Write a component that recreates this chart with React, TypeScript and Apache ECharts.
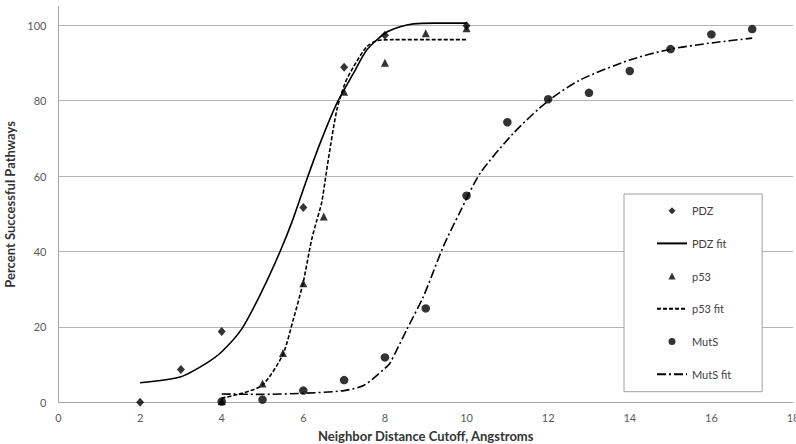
import React, { useEffect, useRef } from "react";
import * as echarts from "echarts";

const pdzX = [2, 3, 4, 6, 7, 8, 10];
const pdzY = [0, 8.7, 18.8, 51.7, 88.9, 97.4, 99.9];

const p53X = [4, 5, 5.5, 6, 6.5, 7, 8, 9, 10];
const p53Y = [0.3, 5.0, 13.1, 31.6, 49.3, 82.4, 90.1, 97.9, 99.2];

const mutsX = [4, 5, 6, 7, 8, 9, 10, 11, 12, 13, 14, 15, 16, 17];
const mutsY = [0.2, 0.7, 3.1, 5.9, 11.9, 24.9, 54.8, 74.3, 80.4, 82.1, 87.9, 93.7, 97.6, 99.0];

const pdzFitX = [2, 3, 3.6, 4, 4.5, 5, 5.43, 5.74, 6.08, 6.41, 6.82, 7.23, 7.55, 8.0, 8.37, 8.7, 9.2, 10];
const pdzFitY = [5.2, 6.8, 10.2, 13.4, 19.6, 29.8, 40.0, 48.4, 59.0, 68.7, 79.3, 87.3, 93.4, 97.9, 99.6, 100.4, 100.6, 100.6];

const p53FitX = [4, 4.5, 5, 5.49, 5.75, 6.0, 6.2, 6.33, 6.45, 6.61, 6.82, 7.02, 7.23, 7.55, 7.8, 8.2, 9, 10];
const p53FitY = [1.1, 2.4, 4.6, 12.5, 21.8, 32.0, 43.0, 48.3, 53.0, 64.3, 77.5, 84.6, 89.0, 94.3, 95.9, 96.2, 96.2, 96.2];

const mutsFitX = [4, 5, 6, 7, 7.5, 8, 8.12, 8.53, 8.94, 9.43, 9.84, 10.33, 11.15, 11.97, 12.78, 14.0, 15.0, 16.05, 17.0];
const mutsFitY = [2.2, 2.1, 2.4, 3.1, 4.6, 9.0, 10.3, 19.2, 28.0, 41.3, 50.5, 60.7, 71.4, 79.7, 85.5, 90.8, 93.7, 95.4, 96.6];

const xTicks = [0, 18, 2];
const yTicks = [0, 105, 20];

const zip = (xs: number[], ys: number[]) => xs.map((x, i) => [x, ys[i]]);

const FONT = "Lato, 'Open Sans', sans-serif";

const DIAMOND_ICON = "path://M0,-1L1,0L0,1L-1,0Z";
const TRIANGLE_ICON = "path://M0,-1L1,1L-1,1Z";
const CIRCLE_ICON = "path://M-1,0A1,1,0,1,0,1,0A1,1,0,1,0,-1,0Z";

export default function App() {
  const ref = useRef<HTMLDivElement>(null);
  useEffect(() => {
    if (!ref.current) return;
    const chart = echarts.init(ref.current, undefined, { renderer: "svg" });
    const black = "#000";
    const hiddenSym = { opacity: 0 };
    chart.setOption({
      animation: false,
      backgroundColor: "#fff",
      textStyle: { fontFamily: FONT },
      grid: { left: 58.5, right: 3, top: 6.5, bottom: 41.7, outerBoundsMode: "none", containLabel: false },
      xAxis: {
        type: "value",
        min: xTicks[0],
        max: xTicks[1],
        interval: xTicks[2],
        name: "Neighbor Distance Cutoff, Angstroms",
        nameLocation: "middle",
        nameGap: 27,
        nameTextStyle: { fontFamily: FONT, fontSize: 13, fontWeight: "bold", color: "#333" },
        axisLine: { show: true, lineStyle: { color: "#a6a6a6", width: 1 } },
        axisTick: { show: false },
        axisLabel: { fontFamily: FONT, fontSize: 11, color: "#595959", margin: 10, showMaxLabel: true, hideOverlap: false },
        splitLine: { show: false },
      },
      yAxis: {
        type: "value",
        min: yTicks[0],
        max: yTicks[1],
        interval: yTicks[2],
        name: "Percent Successful Pathways",
        nameLocation: "middle",
        nameGap: 34,
        nameTextStyle: { fontFamily: FONT, fontSize: 13, fontWeight: "bold", color: "#333" },
        axisLine: { show: true, lineStyle: { color: "#a6a6a6", width: 1 } },
        axisTick: { show: false },
        axisLabel: {
          fontFamily: FONT,
          fontSize: 11,
          color: "#595959",
          margin: 12,
          formatter: (v: number) => (v % 20 === 0 ? String(v) : ""),
        },
        splitLine: { show: true, showMaxLine: false, lineStyle: { color: "#b4b4b4", width: 1 } },
      },
      legend: {
        orient: "vertical",
        left: 624,
        top: 194,
        padding: [10.2, 31, 11, 32],
        itemWidth: 30,
        itemHeight: 7,
        itemGap: 19.7,
        itemTextGap: 4,
        symbolKeepAspect: true,
        borderColor: "#a0a0a0",
        borderWidth: 1,
        backgroundColor: "#fff",
        textStyle: { fontFamily: FONT, fontSize: 11, color: "#404040", lineHeight: 13 },
        data: [
          { name: "PDZ", icon: DIAMOND_ICON },
          { name: "PDZ fit", itemStyle: hiddenSym },
          { name: "p53", icon: TRIANGLE_ICON },
          { name: "p53 fit", itemStyle: hiddenSym },
          { name: "MutS", icon: CIRCLE_ICON },
          { name: "MutS fit", itemStyle: hiddenSym },
        ],
      },
      series: [
        {
          name: "PDZ",
          type: "scatter",
          symbol: "diamond",
          symbolSize: [8, 9],
          itemStyle: { color: black },
          data: zip(pdzX, pdzY),
          z: 5,
        },
        {
          name: "PDZ fit",
          type: "line",
          symbol: "none",
          smooth: 0.25,
          lineStyle: { color: black, width: 1.6 },
          itemStyle: { color: black },
          data: zip(pdzFitX, pdzFitY),
        },
        {
          name: "p53",
          type: "scatter",
          symbol: "triangle",
          symbolSize: [8, 8],
          itemStyle: { color: black },
          data: zip(p53X, p53Y),
          z: 5,
        },
        {
          name: "p53 fit",
          type: "line",
          symbol: "none",
          smooth: 0.25,
          lineStyle: { color: black, width: 1.6, type: [4, 2] },
          itemStyle: { color: black },
          data: zip(p53FitX, p53FitY),
        },
        {
          name: "MutS",
          type: "scatter",
          symbol: "circle",
          symbolSize: 8.5,
          itemStyle: { color: black },
          data: zip(mutsX, mutsY),
          z: 5,
        },
        {
          name: "MutS fit",
          type: "line",
          symbol: "none",
          smooth: 0.25,
          lineStyle: { color: black, width: 1.6, type: [9, 3, 2, 3] },
          itemStyle: { color: black },
          data: zip(mutsFitX, mutsFitY),
        },
      ],
    });
    return () => chart.dispose();
  }, []);
  return <div ref={ref} style={{ width: 796, height: 444, position: "fixed", left: 0, top: 0 }} />;
}
